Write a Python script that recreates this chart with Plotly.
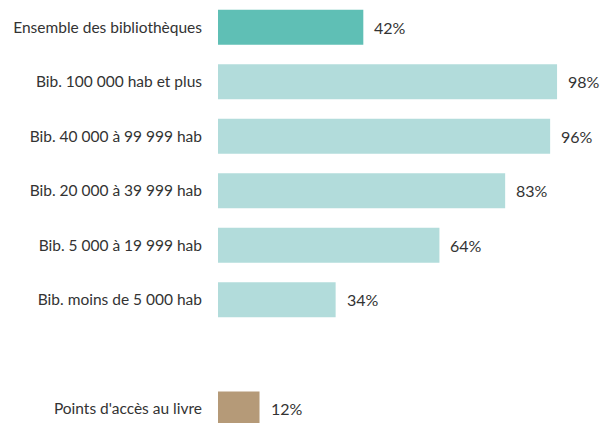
import plotly.graph_objects as go

# Share of libraries, by size of the population served
categories = [
    "Ensemble des bibliothèques",
    "Bib. 100 000 hab et plus",
    "Bib. 40 000 à 99 999 hab",
    "Bib. 20 000 à 39 999 hab",
    "Bib. 5 000 à 19 999 hab",
    "Bib. moins de 5 000 hab",
    " ",  # spacer row
    "Points d'accès au livre",
]
values = [42, 98, 96, 83, 64, 34, None, 12]
colors = ["#5FBFB5", "#B2DCDB", "#B2DCDB", "#B2DCDB", "#B2DCDB", "#B2DCDB",
          "#FFFFFF", "#B59A78"]

FONT = "Lato, 'Open Sans', sans-serif"
TEXT_COLOR = "#333333"

fig = go.Figure(
    go.Bar(
        y=categories,
        x=values,
        orientation="h",
        marker=dict(color=colors, line=dict(width=0)),
        width=0.64,
        hoverinfo="skip",
    )
)

for cat, val in zip(categories, values):
    if val is None:
        continue
    fig.add_annotation(
        x=val, y=cat, text=f"{val}%", showarrow=False,
        xanchor="left", xshift=9,
        font=dict(family=FONT, size=16, color=TEXT_COLOR),
    )

fig.update_layout(
    width=601, height=423,
    margin=dict(l=218, r=0, t=0, b=0),
    paper_bgcolor="white", plot_bgcolor="white",
    showlegend=False,
    font=dict(family=FONT, size=15.5, color=TEXT_COLOR),
)
fig.update_xaxes(range=[0, 110.7], visible=False, showgrid=False, zeroline=False)
fig.update_yaxes(
    type="category",
    categoryorder="array", categoryarray=categories,
    range=[7.26, -0.5],
    showgrid=False, zeroline=False, showline=False,
    ticks="", ticklabelstandoff=15,
    tickfont=dict(family=FONT, size=15.5, color=TEXT_COLOR),
)

fig.write_html("out.html")
